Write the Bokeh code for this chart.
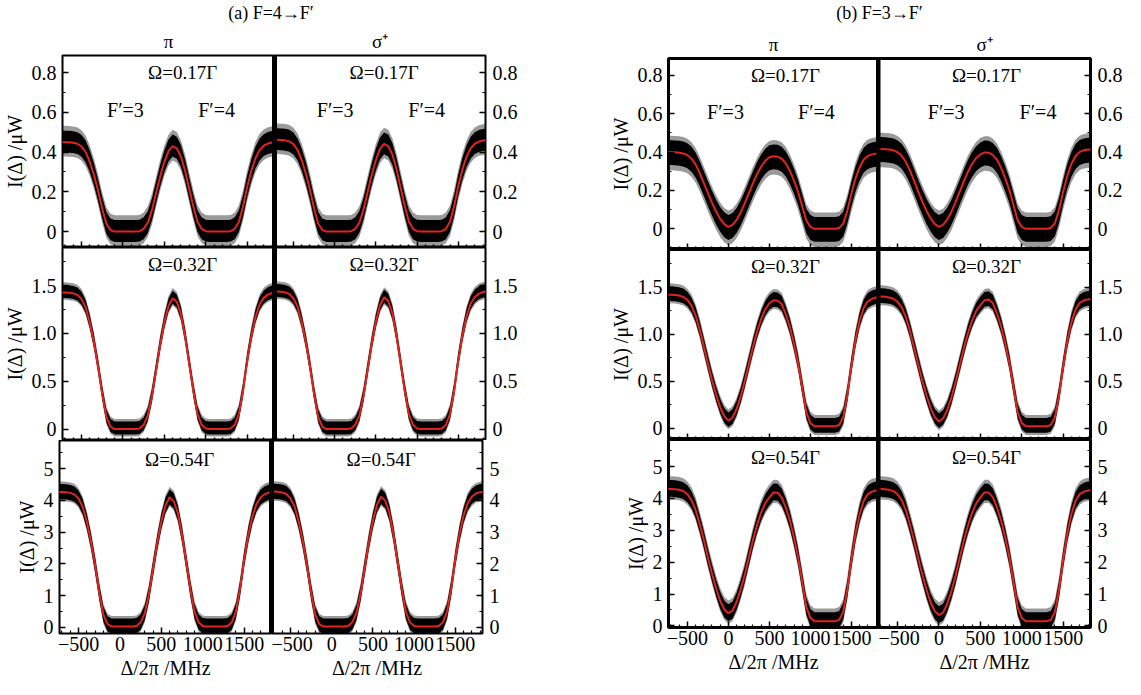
import numpy as np
from bokeh.plotting import figure
from bokeh.layouts import column, row
from bokeh.models import Range1d, Label, Span, SingleIntervalTicker, FixedTicker, LinearAxis
from bokeh.embed import file_html
from bokeh.resources import INLINE

# ---------------- data ----------------
detuning_mhz = [-750, -700, -650, -600, -550, -500, -450, -400, -350, -300,
                -250, -200, -150, -100, -50, 0, 50, 100, 150, 200,
                250, 300, 350, 400, 450, 500, 550, 600, 650, 700,
                750, 800, 850, 900, 950, 1000, 1050, 1100, 1150, 1200,
                1250, 1300, 1350, 1400, 1450, 1500, 1550, 1600, 1650, 1700,
                1750, 1800, 1850]

# panel (a) F=4 -> F'  (fitted intensity, uW)
a_pi_017 = [0.450, 0.450, 0.449, 0.447, 0.442, 0.428, 0.400, 0.350, 0.285, 0.205,
            0.115, 0.040, 0.008, 0.000, 0.000, 0.000, 0.000, 0.000, 0.000, 0.002,
            0.014, 0.045, 0.108, 0.194, 0.279, 0.351, 0.405, 0.430, 0.419, 0.378,
            0.306, 0.216, 0.126, 0.050, 0.014, 0.002, 0.000, 0.000, 0.000, 0.000,
            0.000, 0.002, 0.014, 0.050, 0.126, 0.225, 0.306, 0.369, 0.410, 0.432,
            0.443, 0.448, 0.450]
a_sig_017 = [0.462, 0.462, 0.461, 0.459, 0.454, 0.440, 0.411, 0.360, 0.293, 0.211,
             0.118, 0.041, 0.008, 0.000, 0.000, 0.000, 0.000, 0.000, 0.000, 0.002,
             0.014, 0.046, 0.111, 0.199, 0.286, 0.360, 0.416, 0.441, 0.430, 0.388,
             0.314, 0.222, 0.129, 0.051, 0.014, 0.002, 0.000, 0.000, 0.000, 0.000,
             0.000, 0.002, 0.014, 0.051, 0.129, 0.231, 0.313, 0.377, 0.419, 0.442,
             0.453, 0.458, 0.460]
a_pi_032 = [1.430, 1.430, 1.427, 1.420, 1.404, 1.360, 1.271, 1.112, 0.905, 0.652,
            0.366, 0.127, 0.026, 0.000, 0.000, 0.000, 0.000, 0.000, 0.000, 0.006,
            0.044, 0.143, 0.343, 0.616, 0.887, 1.115, 1.287, 1.370, 1.331, 1.201,
            0.972, 0.686, 0.400, 0.159, 0.044, 0.006, 0.000, 0.000, 0.000, 0.000,
            0.000, 0.006, 0.044, 0.159, 0.400, 0.715, 0.972, 1.173, 1.303, 1.373,
            1.407, 1.424, 1.430]
a_sig_032 = [1.440, 1.440, 1.437, 1.430, 1.414, 1.369, 1.280, 1.120, 0.911, 0.657,
             0.369, 0.128, 0.026, 0.000, 0.000, 0.000, 0.000, 0.000, 0.000, 0.006,
             0.045, 0.144, 0.346, 0.620, 0.893, 1.123, 1.296, 1.380, 1.340, 1.210,
             0.979, 0.691, 0.403, 0.160, 0.045, 0.006, 0.000, 0.000, 0.000, 0.000,
             0.000, 0.006, 0.045, 0.160, 0.403, 0.720, 0.979, 1.181, 1.312, 1.382,
             1.417, 1.434, 1.440]
a_pi_054 = [4.270, 4.270, 4.262, 4.240, 4.194, 4.062, 3.799, 3.329, 2.714, 1.963,
            1.115, 0.407, 0.106, 0.030, 0.030, 0.030, 0.030, 0.030, 0.030, 0.047,
            0.161, 0.454, 1.048, 1.857, 2.659, 3.337, 3.846, 4.100, 3.977, 3.592,
            2.913, 2.065, 1.217, 0.501, 0.161, 0.047, 0.030, 0.030, 0.030, 0.030,
            0.030, 0.047, 0.161, 0.501, 1.217, 2.150, 2.913, 3.507, 3.893, 4.100,
            4.202, 4.253, 4.270]
a_sig_054 = [4.280, 4.280, 4.272, 4.250, 4.204, 4.071, 3.808, 3.337, 2.720, 1.968,
             1.118, 0.408, 0.106, 0.030, 0.030, 0.030, 0.030, 0.030, 0.030, 0.047,
             0.162, 0.456, 1.053, 1.866, 2.672, 3.353, 3.865, 4.120, 3.996, 3.609,
             2.927, 2.075, 1.223, 0.503, 0.162, 0.047, 0.030, 0.030, 0.030, 0.030,
             0.030, 0.047, 0.162, 0.503, 1.223, 2.160, 2.927, 3.524, 3.912, 4.120,
             4.222, 4.263, 4.280]

# panel (b) F=3 -> F'
b_pi_017 = [0.400, 0.400, 0.399, 0.397, 0.393, 0.384, 0.366, 0.336, 0.292, 0.240,
            0.187, 0.136, 0.090, 0.052, 0.024, 0.010, 0.020, 0.046, 0.085, 0.134,
            0.186, 0.238, 0.286, 0.325, 0.355, 0.373, 0.378, 0.376, 0.366, 0.341,
            0.302, 0.251, 0.192, 0.118, 0.043, 0.010, 0.000, 0.000, 0.000, 0.000,
            0.000, 0.000, 0.004, 0.027, 0.094, 0.184, 0.263, 0.321, 0.361, 0.380,
            0.388, 0.392, 0.392]
b_sig_017 = [0.416, 0.416, 0.415, 0.413, 0.409, 0.399, 0.381, 0.349, 0.304, 0.250,
             0.194, 0.141, 0.093, 0.054, 0.024, 0.010, 0.020, 0.048, 0.088, 0.139,
             0.193, 0.247, 0.297, 0.338, 0.369, 0.388, 0.398, 0.397, 0.386, 0.360,
             0.318, 0.264, 0.202, 0.124, 0.045, 0.010, 0.000, 0.000, 0.000, 0.000,
             0.000, 0.000, 0.004, 0.029, 0.099, 0.194, 0.277, 0.339, 0.380, 0.401,
             0.409, 0.413, 0.413]
b_pi_032 = [1.420, 1.420, 1.417, 1.410, 1.397, 1.364, 1.303, 1.200, 1.051, 0.871,
            0.690, 0.513, 0.358, 0.224, 0.127, 0.080, 0.114, 0.204, 0.338, 0.503,
            0.683, 0.863, 1.028, 1.162, 1.265, 1.329, 1.360, 1.355, 1.320, 1.212,
            1.075, 0.897, 0.691, 0.431, 0.171, 0.054, 0.020, 0.020, 0.020, 0.020,
            0.020, 0.020, 0.034, 0.116, 0.349, 0.664, 0.938, 1.143, 1.280, 1.349,
            1.376, 1.390, 1.390]
b_sig_032 = [1.400, 1.400, 1.397, 1.390, 1.377, 1.344, 1.284, 1.181, 1.034, 0.855,
             0.676, 0.501, 0.348, 0.214, 0.117, 0.070, 0.104, 0.193, 0.326, 0.489,
             0.669, 0.847, 1.011, 1.144, 1.247, 1.310, 1.360, 1.368, 1.330, 1.222,
             1.084, 0.904, 0.697, 0.435, 0.171, 0.054, 0.020, 0.020, 0.020, 0.020,
             0.020, 0.020, 0.034, 0.116, 0.349, 0.654, 0.925, 1.128, 1.264, 1.333,
             1.360, 1.370, 1.370]
b_pi_054 = [4.300, 4.300, 4.290, 4.271, 4.232, 4.134, 3.949, 3.647, 3.200, 2.701,
            2.155, 1.648, 1.180, 0.790, 0.517, 0.400, 0.478, 0.751, 1.141, 1.609,
            2.155, 2.701, 3.169, 3.559, 3.852, 4.037, 4.190, 4.180, 4.030, 3.715,
            3.305, 2.770, 2.150, 1.380, 0.600, 0.250, 0.150, 0.150, 0.150, 0.150,
            0.150, 0.150, 0.190, 0.440, 1.140, 2.080, 2.900, 3.510, 3.930, 4.135,
            4.215, 4.250, 4.250]
b_sig_054 = [4.300, 4.300, 4.290, 4.270, 4.231, 4.132, 3.944, 3.627, 3.172, 2.676,
             2.122, 1.607, 1.132, 0.736, 0.459, 0.340, 0.419, 0.696, 1.092, 1.567,
             2.122, 2.676, 3.152, 3.548, 3.845, 4.033, 4.190, 4.185, 4.040, 3.720,
             3.310, 2.775, 2.155, 1.385, 0.600, 0.250, 0.150, 0.150, 0.150, 0.150,
             0.150, 0.150, 0.190, 0.440, 1.140, 2.080, 2.900, 3.510, 3.930, 4.135,
             4.215, 4.250, 4.260]

# measured-signal noise spread around the fit (up, down), per row
noise_core_a = [(0.058, 0.052), (0.078, 0.058), (0.25, 0.23)]
noise_outer_a = [(0.082, 0.072), (0.105, 0.078), (0.33, 0.29)]
noise_core_b = [(0.062, 0.068), (0.088, 0.068), (0.28, 0.25)]
noise_outer_b = [(0.085, 0.095), (0.120, 0.092), (0.40, 0.33)]

panel_titles = ["(a) F=4\u2192F\u2032", "(b) F=3\u2192F\u2032"]
pol_labels = ["\u03c0", "\u03c3\u207a"]
omega_labels = ["\u03a9=0.17\u0393", "\u03a9=0.32\u0393", "\u03a9=0.54\u0393"]
hyperfine_labels = ["F\u2032=3", "F\u2032=4"]
y_title = "I(\u0394) /\u03bcW"
x_title = "\u0394/2\u03c0 /MHz"
x_major_ticks = [-500, 0, 500, 1000, 1500]
x_tick_labels = {-500: "\u2212500"}

# ---------------- styling / layout ----------------
FONT = "Liberation Serif"
RED = "#e3231e"
XR = (-730, 1830)
x_minor_ticks = [v for v in range(-700, 1900, 100) if v % 500 != 0]

y_ranges_a = [(-0.08, 0.886), (-0.12, 1.90), (-0.19, 5.89)]
y_ranges_b = [(-0.108, 0.888), (-0.12, 1.90), (-0.05, 5.85)]
y_steps = [0.2, 0.5, 1.0]
y_overrides = [{0: "0"}, {0: "0", 1: "1.0"}, {}]

omega_y = [0.80, 1.72, 5.28]
hf_y = 0.61
ann_x = {("a", 0): (720, 30, 1130), ("a", 1): (600, 6, 1117),
         ("b", 0): (696, -35, 1074), ("b", 1): (574, 87, 1196)}


def style_axis(ax):
    ax.axis_line_color = None
    ax.major_tick_in = 6
    ax.major_tick_out = 0
    ax.minor_tick_in = 3
    ax.minor_tick_out = 0
    ax.major_tick_line_color = "black"
    ax.minor_tick_line_color = "black"
    ax.major_tick_line_width = 1.5
    ax.minor_tick_line_width = 1.2
    ax.major_label_text_font = FONT
    ax.major_label_text_font_size = "20px"
    ax.major_label_text_color = "black"
    ax.axis_label_text_font = FONT
    ax.axis_label_text_font_size = "20px"
    ax.axis_label_text_font_style = "normal"
    ax.axis_label_text_color = "black"


def inner_tick_axis(positions, length):
    ax = LinearAxis(ticker=FixedTicker(ticks=[], minor_ticks=positions))
    style_axis(ax)
    ax.minor_tick_in = length
    ax.minor_tick_line_width = 1.5
    ax.major_label_standoff = 0
    ax.axis_label_standoff = 0
    return ax


def make_cell(panel, r, c, fit, yr, core, outer, fw, fh, bl, br, bt, bb,
              outline_w, divider_w):
    left = (c == 0)
    kw = dict(frame_width=fw, frame_height=fh,
              x_range=Range1d(*XR), y_range=Range1d(*yr),
              y_axis_location="left" if left else "right",
              x_axis_location="below" if r == 2 else None,
              output_backend="svg", toolbar_location=None,
              min_border_left=bl, min_border_right=br,
              min_border_top=bt, min_border_bottom=bb,
              background_fill_color="white", border_fill_color="white")
    if r == 0:
        kw["title"] = pol_labels[c]
    p = figure(**kw)
    p.grid.visible = False
    p.outline_line_color = "black"
    p.outline_line_width = outline_w

    x = np.array(detuning_mhz, dtype=float)
    f = np.array(fit, dtype=float)
    p.varea(x=x, y1=f - outer[1], y2=f + outer[0], fill_color="#1e1e1e", fill_alpha=0.45)
    p.varea(x=x, y1=f - core[1], y2=f + core[0], fill_color="black")
    p.line(x, f, line_color=RED, line_width=2)

    p.add_layout(Span(location=XR[1] if left else XR[0], dimension="height",
                      line_color="black", line_width=divider_w))

    ya = p.yaxis[0]
    style_axis(ya)
    ya.ticker = SingleIntervalTicker(interval=y_steps[r], num_minor_ticks=2)
    ya.major_label_overrides = y_overrides[r]
    ya.major_label_standoff = 6 if left else 7
    if left:
        ya.axis_label = y_title
        ya.axis_label_standoff = 3

    if r == 2:
        xa = p.xaxis[0]
        style_axis(xa)
        xa.ticker = FixedTicker(ticks=x_major_ticks, minor_ticks=x_minor_ticks)
        xa.axis_label = x_title
        xa.major_label_overrides = x_tick_labels
        xa.major_label_standoff = 3
        xa.axis_label_standoff = 3
    else:
        p.add_layout(inner_tick_axis(x_major_ticks, 6), "below")
        p.add_layout(inner_tick_axis(x_minor_ticks, 3), "below")

    if r == 0:
        p.title.align = "center"
        p.title.text_font = FONT
        p.title.text_font_size = "19px"
        p.title.text_font_style = "normal"
        p.title.text_color = "black"
        p.title.standoff = 7

    ox, f3x, f4x = ann_x[(panel, c)]
    p.add_layout(Label(x=ox, y=omega_y[r], text=omega_labels[r],
                       text_align="center", text_baseline="middle",
                       text_font=FONT, text_font_size="19px", text_color="black"))
    if r == 0:
        for hx, ht in zip((f3x, f4x), hyperfine_labels):
            p.add_layout(Label(x=hx, y=hf_y, text=ht, text_align="center",
                               text_baseline="middle", text_font=FONT,
                               text_font_size="20px", text_color="black"))
    return p


def make_header(text, bl, fw, br, h):
    p = figure(title=text, frame_width=fw, height=h,
               min_border_left=bl, min_border_right=br,
               min_border_top=0, min_border_bottom=0,
               x_range=Range1d(0, 1), y_range=Range1d(0, 1),
               x_axis_location=None, y_axis_location=None,
               output_backend="svg", toolbar_location=None,
               background_fill_color="white", border_fill_color="white")
    p.grid.visible = False
    p.outline_line_color = None
    p.title.align = "center"
    p.title.text_font = FONT
    p.title.text_font_size = "18px"
    p.title.text_font_style = "normal"
    p.title.text_color = "black"
    p.title.standoff = 0
    return p


# panel (a)
fits_a = [[a_pi_017, a_sig_017], [a_pi_032, a_sig_032], [a_pi_054, a_sig_054]]
fh_a = [192, 193, 193]
rows_a = []
for r in range(3):
    cells = []
    for c in range(2):
        bt = 28 if r == 0 else 0
        bb = 50 if r == 2 else 0
        if c == 0:
            bl, fw, br = 59, 212, 0
        else:
            bl, fw, br = 0, 211, 50
        cells.append(make_cell("a", r, c, fits_a[r][c], y_ranges_a[r],
                               noise_core_a[r], noise_outer_a[r],
                               fw, fh_a[r], bl, br, bt, bb, 2, 5))
    rows_a.append(row(*cells, spacing=0))
header_a = make_header(panel_titles[0], 59, 423, 50, 25)
panel_a = column(header_a, *rows_a, spacing=0)

# panel (b)
fits_b = [[b_pi_017, b_sig_017], [b_pi_032, b_sig_032], [b_pi_054, b_sig_054]]
fh_b = [191, 190, 188]
rows_b = []
for r in range(3):
    cells = []
    for c in range(2):
        bt = 33 if r == 0 else 0
        bb = 50 if r == 2 else 0
        if c == 0:
            bl, fw, br = 133, 210, 0
        else:
            bl, fw, br = 0, 212, 38
        cells.append(make_cell("b", r, c, fits_b[r][c], y_ranges_b[r],
                               noise_core_b[r], noise_outer_b[r],
                               fw, fh_b[r], bl, br, bt, bb, 3, 4))
    rows_b.append(row(*cells, spacing=0))
header_b = make_header(panel_titles[1], 133, 422, 38, 25)
panel_b = column(header_b, *rows_b, spacing=0)

layout = row(panel_a, panel_b, spacing=0)

with open("out.html", "w") as fh:
    fh.write(file_html(layout, INLINE))
